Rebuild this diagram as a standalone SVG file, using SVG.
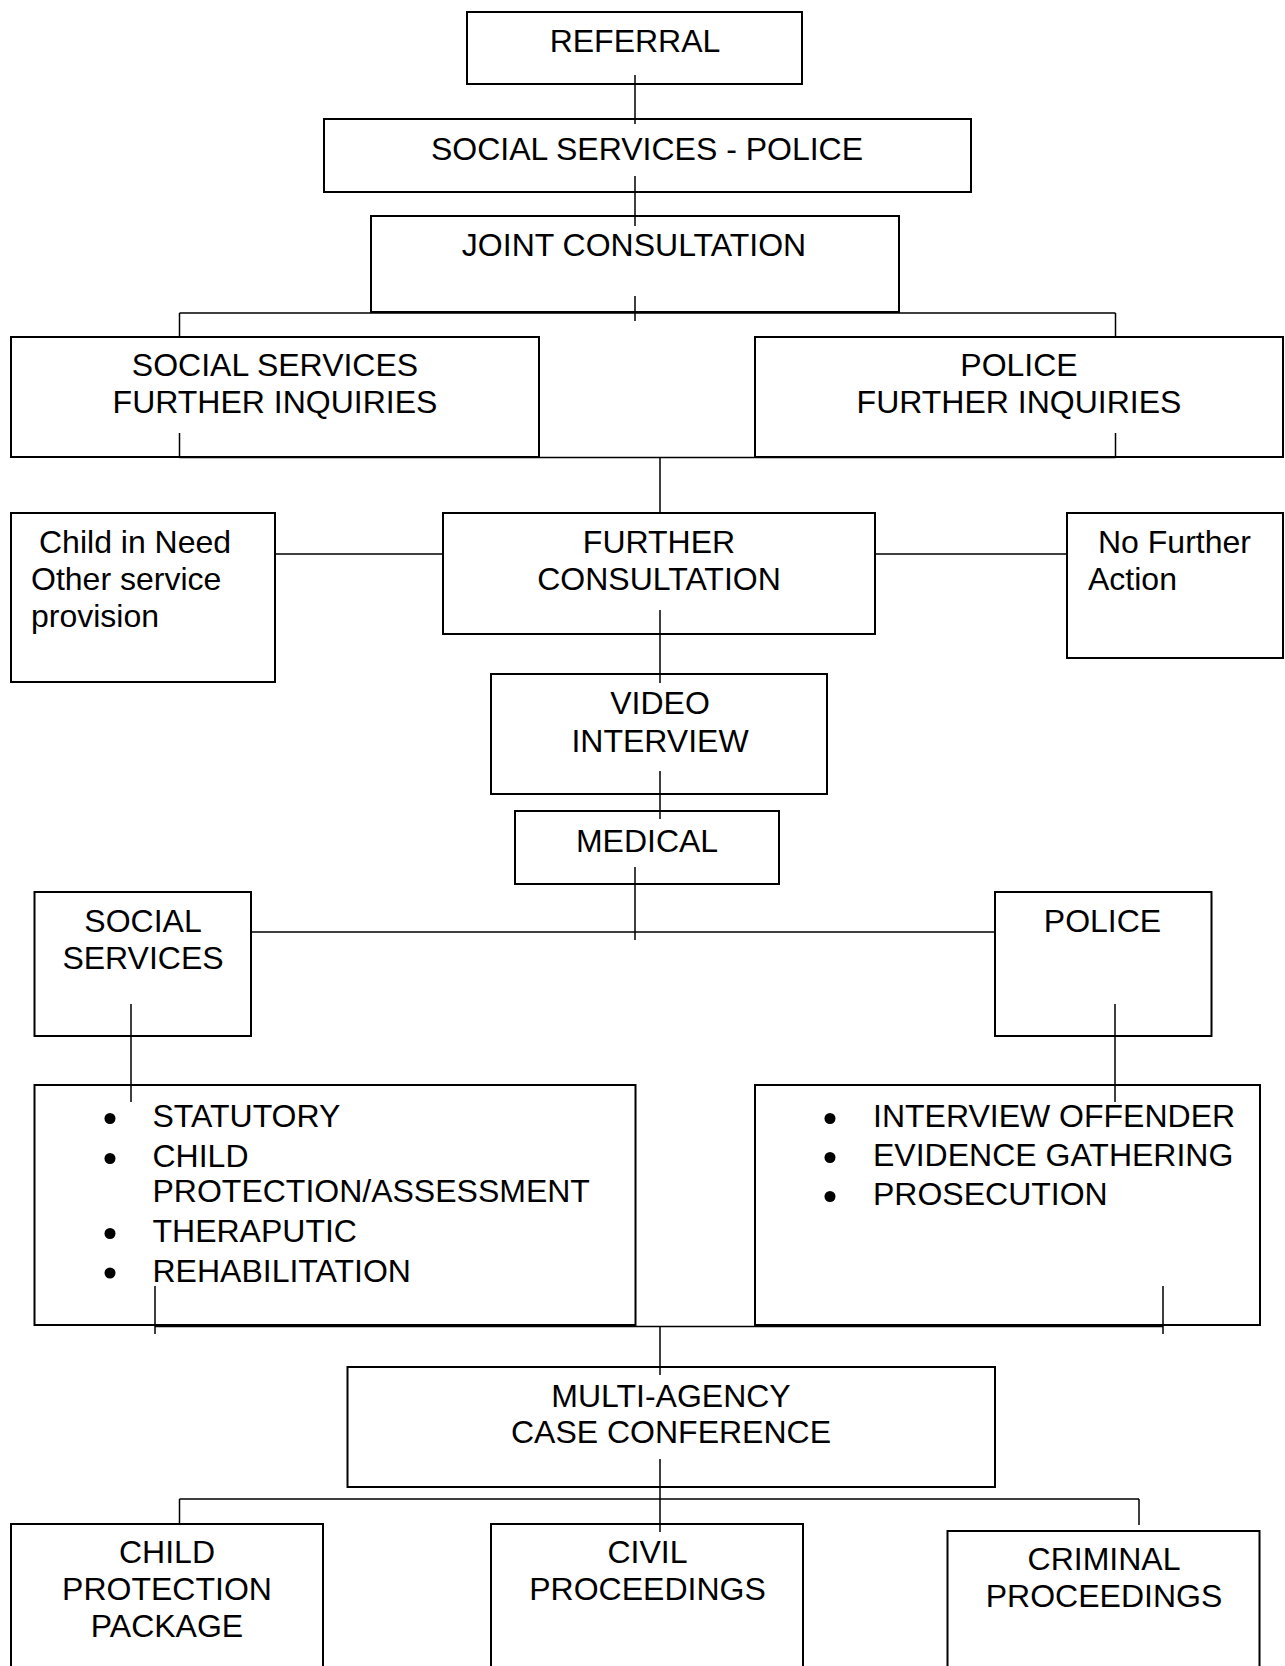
<svg xmlns="http://www.w3.org/2000/svg" width="1285" height="1666" viewBox="0 0 1285 1666">
<style>
.box{fill:#fff;stroke:#000;stroke-width:2}
.t{font-family:"Liberation Sans",Arial,sans-serif;font-size:32px;fill:#000}
.c{text-anchor:middle}
.con{fill:none;stroke:#000;stroke-width:1.5}
.b{fill:#000}
</style>
<rect width="1285" height="1666" fill="#fff"/>
<g id="nodes">
<g id="referral"><rect class="box" x="467" y="12" width="335" height="72"/><text class="t c" x="635" y="52">REFERRAL</text></g>
<g id="ss-police"><rect class="box" x="324" y="119" width="647" height="73"/><text class="t c" x="647" y="160">SOCIAL SERVICES - POLICE</text></g>
<g id="joint"><rect class="box" x="371" y="216" width="528" height="96"/><text class="t c" x="634" y="256">JOINT CONSULTATION</text></g>
<g id="ss-inquiries"><rect class="box" x="11" y="337" width="528" height="120"/><text class="t c" x="275" y="376">SOCIAL SERVICES</text><text class="t c" x="275" y="413">FURTHER INQUIRIES</text></g>
<g id="police-inquiries"><rect class="box" x="755" y="337" width="528" height="120"/><text class="t c" x="1019" y="376">POLICE</text><text class="t c" x="1019" y="413">FURTHER INQUIRIES</text></g>
<g id="child-need"><rect class="box" x="11" y="513" width="264" height="169"/><text class="t" x="39" y="553">Child in Need</text><text class="t" x="31" y="590">Other service</text><text class="t" x="31" y="627">provision</text></g>
<g id="further-consultation"><rect class="box" x="443" y="513" width="432" height="121"/><text class="t c" x="659" y="553">FURTHER</text><text class="t c" x="659" y="590">CONSULTATION</text></g>
<g id="no-further"><rect class="box" x="1067" y="513" width="216" height="145"/><text class="t" x="1098" y="553">No Further</text><text class="t" x="1088" y="590">Action</text></g>
<g id="video"><rect class="box" x="491" y="674" width="336" height="120"/><text class="t c" x="660" y="714">VIDEO</text><text class="t c" x="660" y="752">INTERVIEW</text></g>
<g id="medical"><rect class="box" x="515" y="811" width="264" height="73"/><text class="t c" x="647" y="852">MEDICAL</text></g>
<g id="ss-small"><rect class="box" x="34.5" y="892" width="216.5" height="144"/><text class="t c" x="143" y="932">SOCIAL</text><text class="t c" x="143" y="969">SERVICES</text></g>
<g id="police-small"><rect class="box" x="995" y="892" width="216.5" height="144"/><text class="t c" x="1102.5" y="932">POLICE</text></g>
<g id="ss-list"><rect class="box" x="34.5" y="1085" width="601" height="240"/>
<circle class="b" cx="110" cy="1118.5" r="5.5"/><text class="t" x="152.5" y="1127">STATUTORY</text>
<circle class="b" cx="110" cy="1158.5" r="5.5"/><text class="t" x="152.5" y="1167">CHILD</text>
<text class="t" x="152.5" y="1202">PROTECTION/ASSESSMENT</text>
<circle class="b" cx="110" cy="1233.5" r="5.5"/><text class="t" x="152.5" y="1242">THERAPUTIC</text>
<circle class="b" cx="110" cy="1273" r="5.5"/><text class="t" x="152.5" y="1281.5">REHABILITATION</text></g>
<g id="police-list"><rect class="box" x="755" y="1085" width="505" height="240"/>
<circle class="b" cx="830" cy="1118.5" r="5.5"/><text class="t" x="873" y="1127">INTERVIEW OFFENDER</text>
<circle class="b" cx="830" cy="1157.5" r="5.5"/><text class="t" x="873" y="1166">EVIDENCE GATHERING</text>
<circle class="b" cx="830" cy="1196.5" r="5.5"/><text class="t" x="873" y="1205">PROSECUTION</text></g>
<g id="multi-agency"><rect class="box" x="347.5" y="1367" width="647.5" height="120"/><text class="t c" x="671" y="1407">MULTI-AGENCY</text><text class="t c" x="671" y="1443">CASE CONFERENCE</text></g>
<g id="cpp"><rect class="box" x="11" y="1524" width="312" height="200"/><text class="t c" x="167" y="1563">CHILD</text><text class="t c" x="167" y="1600">PROTECTION</text><text class="t c" x="167" y="1637">PACKAGE</text></g>
<g id="civil"><rect class="box" x="491" y="1524" width="312" height="200"/><text class="t c" x="647.5" y="1563">CIVIL</text><text class="t c" x="647.5" y="1600">PROCEEDINGS</text></g>
<g id="criminal"><rect class="box" x="947.5" y="1531" width="312" height="200"/><text class="t c" x="1104" y="1570">CRIMINAL</text><text class="t c" x="1104" y="1607">PROCEEDINGS</text></g>
</g>
<g id="connectors" class="con">
<path d="M635 75V124M635 176V226M635 296V321"/>
<path d="M179.5 313H1115.5M179.5 313V337M1115.5 313V337"/>
<path d="M179.5 433V458M1115.5 433V458M179.5 457.5H1115.5M660 457.5V513"/>
<path d="M275 554H443M875 554H1067"/>
<path d="M660 610V683M660 771V819M635 867V940"/>
<path d="M251 932H995"/>
<path d="M131 1004V1102M1115 1004V1102"/>
<path d="M155 1286V1334M1163 1286V1334M155 1326.5H1163M660 1326.5V1375"/>
<path d="M660 1459V1532M179.5 1499H1139M179.5 1499V1524M1139 1499V1525"/>
</g>
</svg>
